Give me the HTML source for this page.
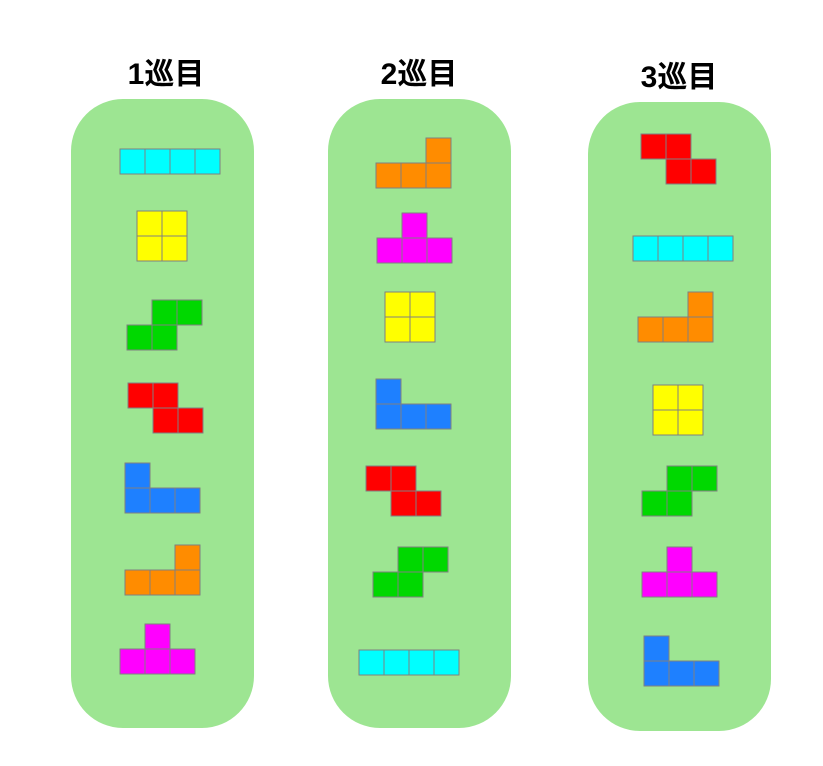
<!DOCTYPE html><html><head><meta charset="utf-8"><style>body{margin:0;background:#fff}svg{display:block}text{font-family:"Liberation Sans","Noto Sans CJK JP",sans-serif;font-weight:bold;font-size:30px;fill:#000}</style></head><body>
<svg width="823" height="766" xmlns="http://www.w3.org/2000/svg">
<rect x="71" y="99" width="183" height="629" rx="52" fill="#9de592"/>
<rect x="328" y="99" width="183" height="629" rx="52" fill="#9de592"/>
<rect x="588" y="102" width="183" height="629" rx="52" fill="#9de592"/>
<text x="166" y="84" text-anchor="middle">1巡目</text>
<text x="419" y="84" text-anchor="middle">2巡目</text>
<text x="679" y="87" text-anchor="middle">3巡目</text>
<g stroke="#808080" stroke-width="1">
<g fill="#00ffff"><rect x="120" y="149" width="25" height="25"/><rect x="145" y="149" width="25" height="25"/><rect x="170" y="149" width="25" height="25"/><rect x="195" y="149" width="25" height="25"/>
<rect x="359" y="650" width="25" height="25"/><rect x="384" y="650" width="25" height="25"/><rect x="409" y="650" width="25" height="25"/><rect x="434" y="650" width="25" height="25"/>
<rect x="633" y="236" width="25" height="25"/><rect x="658" y="236" width="25" height="25"/><rect x="683" y="236" width="25" height="25"/><rect x="708" y="236" width="25" height="25"/></g>
<g fill="#ffff00"><rect x="137" y="211" width="25" height="25"/><rect x="162" y="211" width="25" height="25"/><rect x="137" y="236" width="25" height="25"/><rect x="162" y="236" width="25" height="25"/>
<rect x="385" y="292" width="25" height="25"/><rect x="410" y="292" width="25" height="25"/><rect x="385" y="317" width="25" height="25"/><rect x="410" y="317" width="25" height="25"/>
<rect x="653" y="385" width="25" height="25"/><rect x="678" y="385" width="25" height="25"/><rect x="653" y="410" width="25" height="25"/><rect x="678" y="410" width="25" height="25"/></g>
<g fill="#00d800"><rect x="152" y="300" width="25" height="25"/><rect x="177" y="300" width="25" height="25"/><rect x="127" y="325" width="25" height="25"/><rect x="152" y="325" width="25" height="25"/>
<rect x="398" y="547" width="25" height="25"/><rect x="423" y="547" width="25" height="25"/><rect x="373" y="572" width="25" height="25"/><rect x="398" y="572" width="25" height="25"/>
<rect x="667" y="466" width="25" height="25"/><rect x="692" y="466" width="25" height="25"/><rect x="642" y="491" width="25" height="25"/><rect x="667" y="491" width="25" height="25"/></g>
<g fill="#ff0000"><rect x="128" y="383" width="25" height="25"/><rect x="153" y="383" width="25" height="25"/><rect x="153" y="408" width="25" height="25"/><rect x="178" y="408" width="25" height="25"/>
<rect x="366" y="466" width="25" height="25"/><rect x="391" y="466" width="25" height="25"/><rect x="391" y="491" width="25" height="25"/><rect x="416" y="491" width="25" height="25"/>
<rect x="641" y="134" width="25" height="25"/><rect x="666" y="134" width="25" height="25"/><rect x="666" y="159" width="25" height="25"/><rect x="691" y="159" width="25" height="25"/></g>
<g fill="#1e80ff"><rect x="125" y="463" width="25" height="25"/><rect x="125" y="488" width="25" height="25"/><rect x="150" y="488" width="25" height="25"/><rect x="175" y="488" width="25" height="25"/>
<rect x="376" y="379" width="25" height="25"/><rect x="376" y="404" width="25" height="25"/><rect x="401" y="404" width="25" height="25"/><rect x="426" y="404" width="25" height="25"/>
<rect x="644" y="636" width="25" height="25"/><rect x="644" y="661" width="25" height="25"/><rect x="669" y="661" width="25" height="25"/><rect x="694" y="661" width="25" height="25"/></g>
<g fill="#ff8c00"><rect x="175" y="545" width="25" height="25"/><rect x="125" y="570" width="25" height="25"/><rect x="150" y="570" width="25" height="25"/><rect x="175" y="570" width="25" height="25"/>
<rect x="426" y="138" width="25" height="25"/><rect x="376" y="163" width="25" height="25"/><rect x="401" y="163" width="25" height="25"/><rect x="426" y="163" width="25" height="25"/>
<rect x="688" y="292" width="25" height="25"/><rect x="638" y="317" width="25" height="25"/><rect x="663" y="317" width="25" height="25"/><rect x="688" y="317" width="25" height="25"/></g>
<g fill="#ff00ff"><rect x="145" y="624" width="25" height="25"/><rect x="120" y="649" width="25" height="25"/><rect x="145" y="649" width="25" height="25"/><rect x="170" y="649" width="25" height="25"/>
<rect x="402" y="213" width="25" height="25"/><rect x="377" y="238" width="25" height="25"/><rect x="402" y="238" width="25" height="25"/><rect x="427" y="238" width="25" height="25"/>
<rect x="667" y="547" width="25" height="25"/><rect x="642" y="572" width="25" height="25"/><rect x="667" y="572" width="25" height="25"/><rect x="692" y="572" width="25" height="25"/></g>
</g></svg></body></html>
